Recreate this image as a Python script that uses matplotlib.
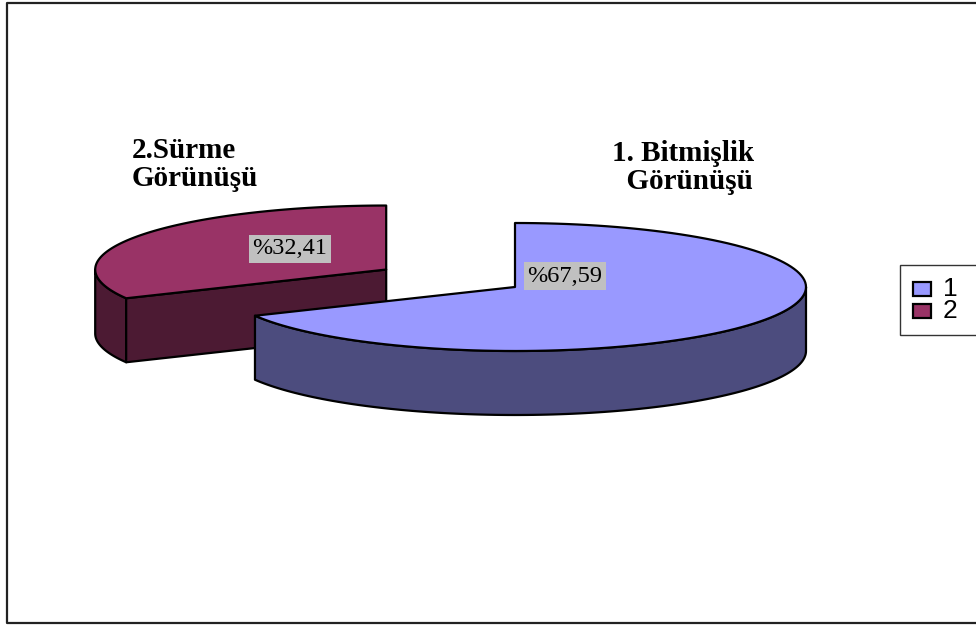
import numpy as np
import matplotlib
matplotlib.use("Agg")
import matplotlib.pyplot as plt
from matplotlib.patches import Polygon, Rectangle

# data
values = [67.59, 32.41]
legend_labels = ["1", "2"]
cat_names = ["1. Bitmişlik\n  Görünüşü", "2.Sürme\nGörünüşü"]
pct_texts = ["%67,59", "%32,41"]
explode = [0.0, 0.52]

top_colors = ["#9999FF", "#993366"]
side_colors = ["#4C4C7E", "#4C1A33"]

# 3d pie geometry (pixel space)
CX, CY = 515, 287
RX, RY = 291, 64
DEPTH = 64

fig = plt.figure(figsize=(9.76, 6.25), dpi=100)
ax = fig.add_axes([0, 0, 1, 1])
ax.set_xlim(0, 976); ax.set_ylim(625, 0)
ax.axis("off")

# frame (right edge is cut off in the original)
ax.plot([980, 6.5, 6.5, 980], [2.5, 2.5, 623, 623], color="#222222", lw=1.6, zorder=1)


def pt(cx, cy, a):
    r = np.radians(a)
    return cx + RX * np.cos(r), cy - RY * np.sin(r)


def arc(cx, cy, a0, a1, dz=0.0, n=120):
    aa = np.linspace(a0, a1, n)
    xs = cx + RX * np.cos(np.radians(aa))
    ys = cy - RY * np.sin(np.radians(aa)) + dz
    return np.column_stack([xs, ys])


# slice ranges: start at 12 o'clock, clockwise
total = sum(values)
bounds = []
acc = 0.0
for v in values:
    a_hi = 90 - acc / total * 360
    acc += v
    a_lo = 90 - acc / total * 360
    bounds.append((a_lo, a_hi))

kw = dict(ec="black", lw=1.6, joinstyle="round")
z = 2
# draw back (exploded) slice first
for i in reversed(range(len(values))):
    lo, hi = bounds[i]
    mid = np.radians((lo + hi) / 2)
    cx = CX + explode[i] * RX * np.cos(mid)
    cy = CY - explode[i] * RY * np.sin(mid)
    # outer side: visible on the front half (180..360)
    for k in range(-1, 2):
        s0, s1 = max(lo, 180 + 360 * k), min(hi, 360 + 360 * k)
        if s1 > s0:
            top = arc(cx, cy, s0, s1)
            bot = arc(cx, cy, s1, s0, DEPTH)
            ax.add_patch(Polygon(np.vstack([top, bot]), closed=True,
                                 fc=side_colors[i], zorder=z, **kw))
    # radial faces
    for a, vis in ((lo, np.cos(np.radians(lo)) > 1e-6), (hi, np.cos(np.radians(hi)) < -1e-6)):
        if vis:
            p = pt(cx, cy, a)
            quad = [(cx, cy), p, (p[0], p[1] + DEPTH), (cx, cy + DEPTH)]
            ax.add_patch(Polygon(quad, closed=True, fc=side_colors[i], zorder=z, **kw))
    # top face
    topf = np.vstack([[cx, cy], arc(cx, cy, lo, hi), [cx, cy]])
    ax.add_patch(Polygon(topf, closed=True, fc=top_colors[i], zorder=z + 1, **kw))
    z += 2

# value labels
lbl_box = dict(boxstyle="square,pad=0.15", fc="#C0C0C0", ec="none")
ax.text(565, 276, pct_texts[0], ha="center", va="center", fontsize=17.5,
        family="Liberation Serif", zorder=10, bbox=lbl_box)
ax.text(290, 249, pct_texts[1], ha="center", va="center", fontsize=17.5,
        family="Liberation Serif", zorder=10, bbox=lbl_box)

# category labels
ax.text(612, 140, cat_names[0], ha="left", va="top", fontsize=21,
        family="Liberation Serif", weight="bold", linespacing=1.05)
ax.text(132, 137, cat_names[1], ha="left", va="top", fontsize=21,
        family="Liberation Serif", weight="bold", linespacing=1.05)

# legend
ax.add_patch(Rectangle((899.5, 264.5), 80, 70, fc="white", ec="#333333", lw=1.0, zorder=5))
for i, lab in enumerate(legend_labels):
    y = 289 + i * 22
    ax.add_patch(Rectangle((913, y - 7), 18, 14, fc=top_colors[i], ec="black", lw=1.6, zorder=6))
    ax.text(943, y, lab, ha="left", va="center", fontsize=19,
            family="Liberation Sans", zorder=6)

fig.savefig("out.png", dpi=100)
